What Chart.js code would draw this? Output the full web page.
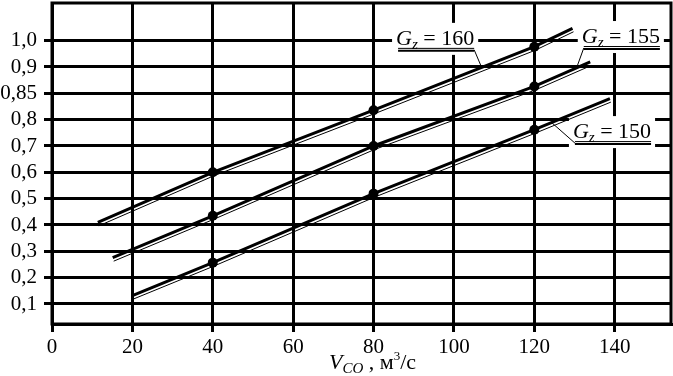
<!DOCTYPE html>
<html>
<head>
<meta charset="utf-8">
<script src="https://cdn.jsdelivr.net/npm/chart.js@4.4.1/dist/chart.umd.min.js"></script>
<style>
  html, body { margin: 0; padding: 0; background: #fff; }
</style>
</head>
<body>
<canvas id="chart" width="673" height="376"></canvas>
<script>
// y axis: gridlines are evenly spaced but carry these labels
const yTickValues = [0.1, 0.2, 0.3, 0.4, 0.5, 0.6, 0.7, 0.8, 0.85, 0.9, 1.0];
const yTickLabels = ['0,1', '0,2', '0,3', '0,4', '0,5', '0,6', '0,7', '0,8', '0,85', '0,9', '1,0'];
const xTicks = [0, 20, 40, 60, 80, 100, 120, 140];

// V_CO (m3/s) and read-off values for each G_z
const vco160 = [11.4, 40, 80, 120, 129.5];
const g160 = [0.41, 0.60, 0.818, 0.977, 1.047];
const vco155 = [15.1, 40, 80, 120, 133.9];
const g155 = [0.276, 0.435, 0.70, 0.863, 0.919];
const vco150 = [20, 40, 80, 120, 138.8];
const g150 = [0.132, 0.257, 0.519, 0.762, 0.840];
const seriesNames = ['160', '155', '150'];

const SERIF = '"Liberation Serif", "Times New Roman", Times, serif';

// value on the printed scale -> position on the evenly spaced grid
function toIdx(v) {
  let i = 0;
  while (i < yTickValues.length - 2 && v > yTickValues[i + 1]) i++;
  const a = yTickValues[i], b = yTickValues[i + 1];
  return i + 1 + (v - a) / (b - a);
}

function makeSet(xs, ys) {
  return {
    data: xs.map((x, i) => ({ x: x, y: toIdx(ys[i]) })),
    borderColor: '#000',
    borderWidth: 3,
    backgroundColor: '#000',
    pointBackgroundColor: '#000',
    pointBorderWidth: 0,
    pointRadius: xs.map((x, i) => (i === 0 || i === xs.length - 1) ? 0 : 5),
    tension: 0,
    fill: false
  };
}

// label anchors (text left / baseline in data units) and where the leader meets the line
const labelDefs = [
  { series: 0, tx: 85.6, ty: 0.984, lx: 106.9, side: 'right' },
  { series: 1, tx: 131.8, ty: 0.991, lx: 130.5, side: 'left' },
  { series: 2, tx: 129.6, ty: 0.73, lx: 124.3, side: 'left' }
];

function measureLabel(ctx, name) {
  ctx.font = 'italic 22px ' + SERIF;
  const wG = ctx.measureText('G').width;
  ctx.font = 'italic 15px ' + SERIF;
  const wz = ctx.measureText('z').width;
  ctx.font = '22px ' + SERIF;
  const wr = ctx.measureText(' = ' + name).width;
  return { wG, wz, wr, w: wG + wz + wr };
}

function lineYAt(meta, px) {
  const pts = meta.data;
  for (let i = 0; i < pts.length - 1; i++) {
    const a = pts[i], b = pts[i + 1];
    if (px >= a.x && px <= b.x) return a.y + (b.y - a.y) * (px - a.x) / (b.x - a.x);
  }
  return pts[pts.length - 1].y;
}

const labelPlugin = {
  id: 'gzLabels',
  beforeDatasetsDraw(chart) {
    const ctx = chart.ctx, xs = chart.scales.x, ys = chart.scales.y;
    ctx.save();
    ctx.fillStyle = '#fff';
    labelDefs.forEach(d => {
      const px = xs.getPixelForValue(d.tx), py = ys.getPixelForValue(toIdx(d.ty));
      const m = measureLabel(ctx, seriesNames[d.series]);
      ctx.fillRect(px - 4, py - 22, m.w + 8, 32);
    });
    ctx.restore();
  },
  afterDatasetsDraw(chart) {
    const ctx = chart.ctx, xs = chart.scales.x, ys = chart.scales.y;
    ctx.save();
    // thin companion line under each curve
    chart.data.datasets.forEach((ds, di) => {
      const pts = chart.getDatasetMeta(di).data;
      ctx.beginPath();
      pts.forEach((p, i) => i === 0 ? ctx.moveTo(p.x + 1, p.y + 3.5) : ctx.lineTo(p.x + 1, p.y + 3.5));
      ctx.lineWidth = 1;
      ctx.strokeStyle = '#000';
      ctx.stroke();
    });
    labelDefs.forEach(d => {
      const name = seriesNames[d.series];
      const px = xs.getPixelForValue(d.tx), py = ys.getPixelForValue(toIdx(d.ty));
      const m = measureLabel(ctx, name);
      ctx.fillStyle = '#000';
      ctx.textBaseline = 'alphabetic';
      ctx.textAlign = 'left';
      ctx.font = 'italic 22px ' + SERIF;
      ctx.fillText('G', px, py);
      ctx.font = 'italic 15px ' + SERIF;
      ctx.fillText('z', px + m.wG, py + 4);
      ctx.font = '22px ' + SERIF;
      ctx.fillText(' = ' + name, px + m.wG + m.wz, py);
      // double underline
      ctx.strokeStyle = '#000';
      ctx.lineWidth = 1;
      ctx.beginPath();
      ctx.moveTo(px + 2, py + 3.5); ctx.lineTo(px + m.w, py + 3.5);
      ctx.stroke();
      ctx.lineWidth = 2;
      ctx.beginPath();
      ctx.moveTo(px + 2, py + 6); ctx.lineTo(px + m.w, py + 6);
      ctx.stroke();
      // leader to the line
      const sx = d.side === 'right' ? px + m.w : px + 2;
      const ex = xs.getPixelForValue(d.lx);
      const ey = lineYAt(chart.getDatasetMeta(d.series), ex);
      ctx.lineWidth = 1;
      ctx.beginPath();
      ctx.moveTo(sx, py + 5); ctx.lineTo(ex, ey);
      ctx.stroke();
    });
    ctx.restore();
  },
  afterDraw(chart) {
    const ctx = chart.ctx, a = chart.chartArea;
    ctx.save();
    ctx.strokeStyle = '#000';
    ctx.lineWidth = 3;
    ctx.strokeRect(a.left, a.top, a.right - a.left, a.bottom - a.top);
    // axis title: V_CO , м³/с
    const cx = (a.left + a.right) / 2;
    const by = 369;
    ctx.fillStyle = '#000';
    ctx.textBaseline = 'alphabetic';
    ctx.textAlign = 'left';
    const parts = [
      { t: 'V', f: 'italic 22px ', dy: 0 },
      { t: 'CO', f: 'italic 15px ', dy: 4 },
      { t: ' , м', f: '22px ', dy: 0 },
      { t: '3', f: '13px ', dy: -9 },
      { t: '/с', f: '22px ', dy: 0 }
    ];
    let total = 0;
    parts.forEach(p => { ctx.font = p.f + SERIF; p.w = ctx.measureText(p.t).width; total += p.w; });
    let x = cx - total / 2 + 11;
    parts.forEach(p => { ctx.font = p.f + SERIF; ctx.fillText(p.t, x, by + p.dy); x += p.w; });
    ctx.restore();
  }
};

new Chart(document.getElementById('chart'), {
  type: 'line',
  data: {
    datasets: [makeSet(vco160, g160), makeSet(vco155, g155), makeSet(vco150, g150)]
  },
  options: {
    responsive: false,
    animation: false,
    layout: { padding: { top: 3, right: 2, left: 0, bottom: 0 } },
    plugins: { legend: { display: false }, tooltip: { enabled: false } },
    scales: {
      x: {
        type: 'linear',
        min: 0,
        max: 154,
        afterBuildTicks: s => { s.ticks = xTicks.map(v => ({ value: v })); },
        afterFit: s => { s.height = 52; s.paddingLeft = 0; s.paddingRight = 0; },
        grid: { color: '#000', lineWidth: 3, tickLength: 8 },
        border: { display: true, color: '#000', width: 3 },
        ticks: { color: '#000', font: { family: SERIF, size: 21 }, padding: 3, maxRotation: 0, autoSkip: false }
      },
      y: {
        type: 'linear',
        min: 0.24,
        max: 12.43,
        afterBuildTicks: s => { s.ticks = yTickValues.map((v, i) => ({ value: i + 1 })); },
        afterFit: s => { s.width = 52; s.paddingTop = 0; s.paddingBottom = 0; },
        grid: { color: '#000', lineWidth: 3, tickLength: 8 },
        border: { display: true, color: '#000', width: 3 },
        ticks: {
          color: '#000',
          font: { family: SERIF, size: 21 },
          padding: 7,
          autoSkip: false,
          callback: v => yTickLabels[Math.round(v) - 1]
        }
      }
    }
  },
  plugins: [labelPlugin]
});
</script>
</body>
</html>
